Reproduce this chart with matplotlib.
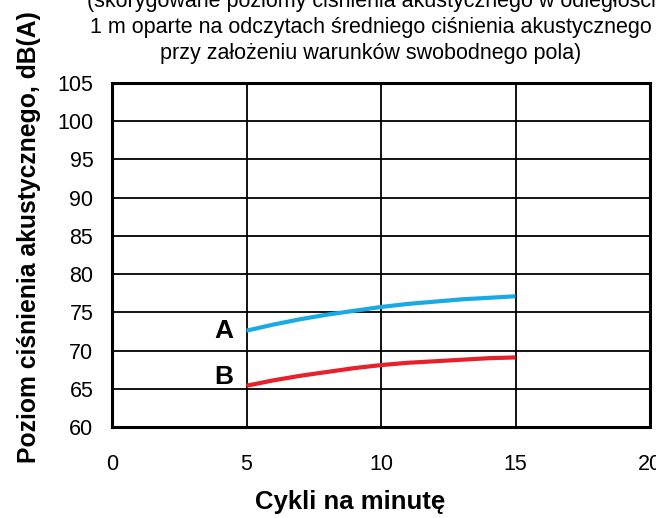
import matplotlib
matplotlib.use("Agg")
import matplotlib.pyplot as plt

plt.rcParams['font.family'] = ['Liberation Sans', 'DejaVu Sans']

# Sound pressure level vs. cycles per minute
cycles = [5, 6, 7, 8, 9, 10, 11, 12, 13, 14, 15]
level_a = [72.6, 73.4, 74.1, 74.7, 75.2, 75.7, 76.1, 76.4, 76.7, 76.9, 77.1]
level_b = [65.4, 66.1, 66.7, 67.2, 67.7, 68.1, 68.4, 68.6, 68.8, 69.0, 69.1]

x_ticks = [0, 5, 10, 15, 20]
y_ticks = [60, 65, 70, 75, 80, 85, 90, 95, 100, 105]

title_lines = [
    "(skorygowane poziomy ciśnienia akustycznego w odległości",
    "1 m oparte na odczytach średniego ciśnienia akustycznego",
    "przy założeniu warunków swobodnego pola)",
]

W, H = 656, 518
fig = plt.figure(figsize=(W / 100, H / 100), dpi=100)
left, right, top, bottom = 112, 650, 83, 427
ax = fig.add_axes([left / W, 1 - bottom / H, (right - left) / W, (bottom - top) / H])

ax.plot(cycles, level_a, color='#19a9e5', lw=3, solid_capstyle='butt', zorder=3)
ax.plot(cycles, level_b, color='#e8202a', lw=3, solid_capstyle='butt', zorder=3)

ax.text(4.5, level_a[0], "A", ha='right', va='center', fontsize=19, fontweight='bold')
ax.text(4.5, 66.5, "B", ha='right', va='center', fontsize=19, fontweight='bold')

ax.set_xlim(0, 20)
ax.set_ylim(60, 105)
ax.set_xticks(x_ticks)
ax.set_yticks(y_ticks)
ax.grid(True, color='black', lw=1.3)
ax.set_axisbelow(True)
for s in ax.spines.values():
    s.set_linewidth(2.2)
ax.tick_params(axis='both', length=0, labelsize=15.5)
ax.tick_params(axis='y', pad=13.5)
ax.tick_params(axis='x', pad=19.5)

fig.text(350 / W, 1 - 502 / H, "Cykli na minutę", ha='center', va='center',
         fontsize=18.5, fontweight='bold')
fig.text(29 / W, 1 - 237 / H, "Poziom ciśnienia akustycznego, dB(A)", ha='center',
         va='center', rotation=90, fontsize=17.8, fontweight='bold')

for i, line in enumerate(title_lines):
    fig.text(371 / W, 1 - (2 + 25.5 * i) / H, line, ha='center', va='center', fontsize=15.5)

fig.savefig("out.png", dpi=100)
